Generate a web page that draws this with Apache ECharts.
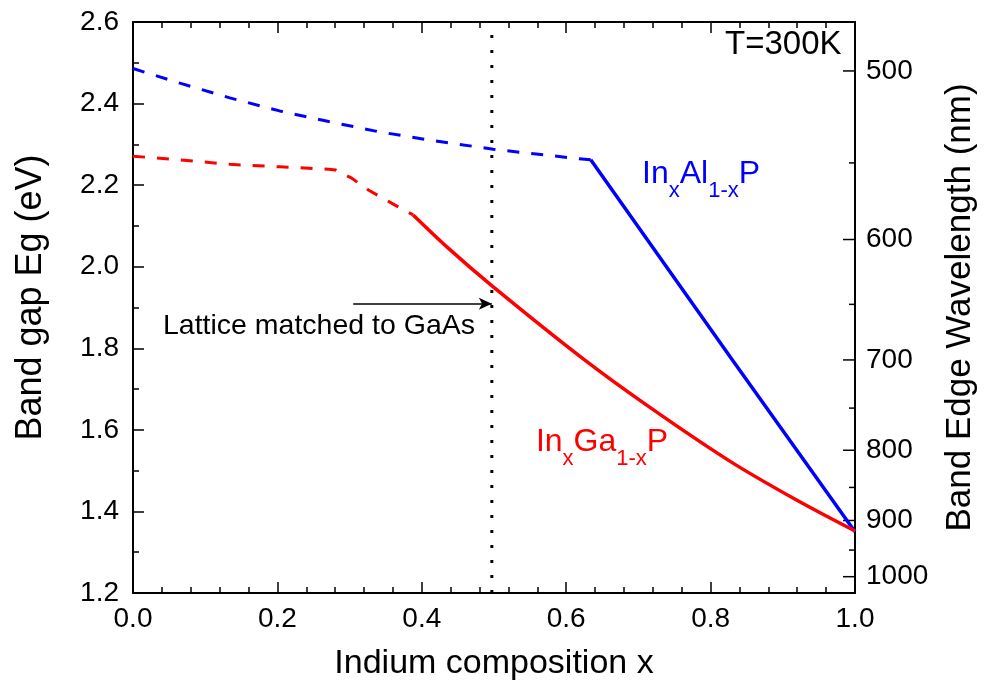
<!DOCTYPE html>
<html><head><meta charset="utf-8">
<script src="https://cdn.jsdelivr.net/npm/echarts@6/dist/echarts.min.js"></script>
<style>html,body{margin:0;padding:0;background:#fff}#c{width:986px;height:696px}</style>
</head><body><div id="c"></div>
<script>
const FONT = '"Liberation Sans", Arial, Helvetica, sans-serif';

// InxAl1-xP (blue): dashed (indirect) part and solid (direct) part  [x, Eg(eV)]
const inAlPDashed = [[0,2.486],[0.065,2.450],[0.134,2.414],[0.203,2.382],[0.271,2.356],[0.340,2.331],[0.409,2.311],[0.499,2.288],[0.606,2.267],[0.634,2.262]];
const inAlPSolid  = [[0.634,2.262],[0.827,1.779],[1.0,1.350]];
// InxGa1-xP (red)
const inGaPDashed = [[0,2.271],[0.065,2.262],[0.134,2.251],[0.203,2.245],[0.271,2.239],[0.281,2.237],[0.303,2.217],[0.326,2.188],[0.363,2.151],[0.388,2.127]];
const inGaPSolid  = [[0.388,2.127],[0.437,2.045],[0.496,1.955],[0.620,1.779],[0.712,1.660],[0.826,1.524],[0.919,1.428],[1.0,1.352]];
// Lattice matched composition
const latticeX = 0.497;
const arrowFromX = 0.305;
const arrowY = 1.909;
// Right axis: wavelength ticks (nm)
const wavelengthMajor = [500,600,700,800,900,1000];
const wavelengthMinor = [550,650,750,850,950];

const chart = echarts.init(document.getElementById('c'), null, {renderer:'canvas'});

const axisLineStyle = {color:'#000', width:2};
const tickLine = {color:'#000', width:1.5};

function xAxisCfg(pos, showLabel){
  return {
    type:'value', min:0, max:1, interval:0.2, position:pos,
    axisLine:{show:true, onZero:false, lineStyle:axisLineStyle},
    axisTick:{show:true, inside:true, length:11, lineStyle:tickLine},
    minorTick:{show:true, splitNumber:5, length:6, lineStyle:tickLine},
    splitLine:{show:false},
    axisLabel:{show:showLabel, fontSize:28, color:'#000', fontFamily:FONT, margin:12, formatter:v=>v.toFixed(1)}
  };
}

const xBottom = xAxisCfg('bottom', true);
xBottom.name = 'Indium composition x';
xBottom.nameLocation = 'middle';
xBottom.nameGap = 54;
xBottom.nameTextStyle = {fontSize:34, color:'#000', fontFamily:FONT};
const xTop = xAxisCfg('top', false);

const option = {
  animation:false,
  backgroundColor:'#fff',
  grid:{left:133, right:127, top:22, bottom:103, containLabel:false},
  xAxis:[xBottom, xTop],
  yAxis:[
    {type:'value', min:1.2, max:2.6, interval:0.2, position:'left',
     axisLine:{show:true, onZero:false, lineStyle:axisLineStyle},
     axisTick:{show:true, inside:true, length:11, lineStyle:tickLine},
     minorTick:{show:true, splitNumber:2, length:6, lineStyle:tickLine},
     splitLine:{show:false},
     axisLabel:{fontSize:28, color:'#000', fontFamily:FONT, margin:14, formatter:v=>v.toFixed(1)},
     name:'Band gap Eg (eV)', nameLocation:'middle', nameGap:84, nameRotate:90,
     nameTextStyle:{fontSize:36, color:'#000', fontFamily:FONT, padding:[0,0,0,20]}},
    {type:'value', min:1.2, max:2.6, position:'right',
     axisLine:{show:true, onZero:false, lineStyle:axisLineStyle},
     axisTick:{show:false}, axisLabel:{show:false}, splitLine:{show:false},
     name:'Band Edge Wavelength (nm)', nameLocation:'middle', nameGap:88, nameRotate:90,
     nameTextStyle:{fontSize:35, color:'#000', fontFamily:FONT}}
  ],
  series:[
    {type:'line', data:inAlPDashed, symbol:'none', lineStyle:{color:'#0000ff', width:3, type:[12,12]}, z:3},
    {type:'line', data:inAlPSolid, symbol:'none', lineStyle:{color:'#0000ff', width:3.5}, z:3},
    {type:'line', data:inGaPDashed, symbol:'none', lineStyle:{color:'#ff0000', width:3, type:[12,12]}, z:3},
    {type:'line', data:inGaPSolid, symbol:'none', smooth:0.3, lineStyle:{color:'#ff0000', width:3.5}, z:3},
    {type:'line', data:[[latticeX,1.2],[latticeX,2.6]], symbol:'none',
     lineStyle:{color:'#000', width:3, type:[3,12]}, z:2,
     markLine:{silent:true, symbol:['none','arrow'], symbolSize:[9,13],
       label:{show:false}, lineStyle:{color:'#000', width:1.5, type:'solid'},
       data:[[{coord:[arrowFromX,arrowY]},{coord:[latticeX,arrowY]}]]}},
    {type:'custom', coordinateSystem:'cartesian2d', xAxisIndex:0, yAxisIndex:0, clip:false, silent:true,
     data: wavelengthMajor.map(w=>[w,1]).concat(wavelengthMinor.map(w=>[w,0])),
     encode:{x:-1, y:-1},
     renderItem:function(params, api){
       const w = api.value(0), major = api.value(1);
       const p = api.coord([1, 1240 / w]);
       const len = major ? 12 : 6;
       const children = [{type:'line', shape:{x1:p[0]-len, y1:p[1], x2:p[0], y2:p[1]}, style:{stroke:'#000', lineWidth:1.5}}];
       if (major) {
         children.push({type:'text', x:p[0]+11, y:p[1], style:{text:String(w), fill:'#000', fontSize:28, fontFamily:FONT, align:'left', verticalAlign:'middle'}});
       }
       return {type:'group', children:children};
     }}
  ]
};
chart.setOption(option);

function px(x, y){ return chart.convertToPixel({xAxisIndex:0, yAxisIndex:0}, [x, y]); }
function subLabel(text, color){
  return {
    text:text, fill:color, align:'left', verticalAlign:'top',
    rich:{
      m:{fontSize:32, lineHeight:32, verticalAlign:'top', fontFamily:FONT, fill:color},
      s:{fontSize:22, lineHeight:22, padding:[22,0,0,0], verticalAlign:'top', fontFamily:FONT, fill:color}
    }
  };
}
const pAl = px(0.705, 2.200);
const pGa = px(0.558, 1.543);
const pLat = px(0.0415, 1.89);
chart.setOption({graphic:[
  {type:'text', x:725, y:45, style:{text:'T=300K', fill:'#000', fontSize:33, fontFamily:FONT, align:'left', verticalAlign:'middle'}, z:10},
  {type:'text', x:pLat[0], y:pLat[1], style:{text:'Lattice matched to GaAs', fill:'#000', fontSize:28.5, fontFamily:FONT, align:'left', verticalAlign:'alphabetic'}, z:10},
  {type:'text', x:pAl[0], y:pAl[1]-27, style:subLabel('{m|In}{s|x}{m|Al}{s|1-x}{m|P}', '#0000ff'), z:10},
  {type:'text', x:pGa[0], y:pGa[1]-27, style:subLabel('{m|In}{s|x}{m|Ga}{s|1-x}{m|P}', '#ff0000'), z:10}
]});
</script></body></html>
